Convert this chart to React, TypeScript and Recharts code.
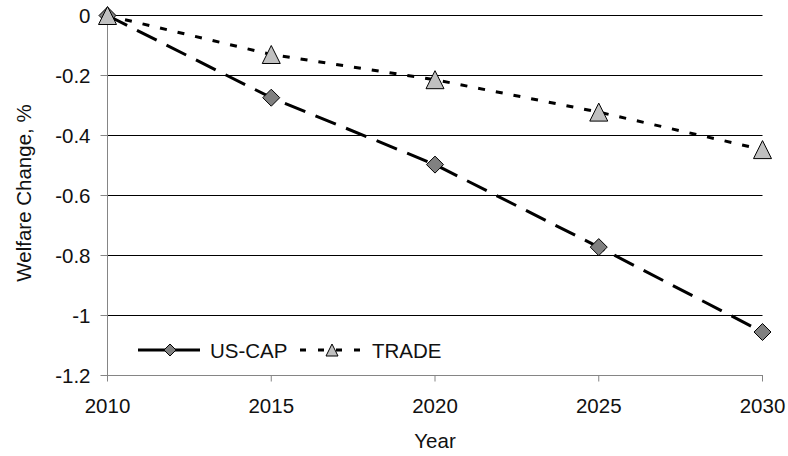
import { LineChart, Line, XAxis, YAxis, CartesianGrid } from 'recharts';

const years = [2010, 2015, 2020, 2025, 2030];
const usCap = [0, -0.274, -0.497, -0.772, -1.055];
const trade = [0, -0.13, -0.214, -0.322, -0.447];
const yTicks = [0, -0.2, -0.4, -0.6, -0.8, -1, -1.2];

const data = years.map((year, i) => ({ year, usCap: usCap[i], trade: trade[i] }));

const FONT = '"Liberation Sans", Arial, sans-serif';
const AXIS_GRAY = '#858585';

const Diamond = ({ cx, cy, size = 17 }: any) => {
    if (cx == null || cy == null) return null;
    const h = size / 2;
    return (
        <path
            d={`M${cx},${cy - h} L${cx + h},${cy} L${cx},${cy + h} L${cx - h},${cy} Z`}
            fill="#808080"
            stroke="#000"
            strokeWidth={1}
        />
    );
};

const Triangle = ({ cx, cy, size = 18 }: any) => {
    if (cx == null || cy == null) return null;
    const h = size / 2;
    return (
        <path
            d={`M${cx},${cy - h} L${cx + h},${cy + h} L${cx - h},${cy + h} Z`}
            fill="#c0c0c0"
            stroke="#000"
            strokeWidth={1}
        />
    );
};

const series = [
    { key: 'usCap', name: 'US-CAP', dash: '22 11', legendDash: undefined, Marker: Diamond, legendSize: 12 },
    { key: 'trade', name: 'TRADE', dash: '7 11', legendDash: '6 12', Marker: Triangle, legendSize: 12 },
];

const YLabel = () => (
    <text
        x={31}
        y={193}
        transform="rotate(-90, 31, 193)"
        textAnchor="middle"
        fontSize={20.5}
        fontFamily={FONT}
        fill="#111"
    >
        Welfare Change, %
    </text>
);

function ChartLegend() {
    // two entries: line + marker + name, as in the original
    const starts = [138, 300];
    return (
        <svg
            width={340}
            height={40}
            style={{ position: 'absolute', left: 0, top: 330, overflow: 'visible', pointerEvents: 'none' }}
        >
            {series.map((s, i) => {
                const x0 = starts[i];
                const M = s.Marker;
                return (
                    <g key={s.key}>
                        <line x1={x0} x2={x0 + 62} y1={20} y2={20} stroke="#000" strokeWidth={3} strokeDasharray={s.legendDash} />
                        <M cx={x0 + 32} cy={20} size={s.legendSize} />
                        <text x={x0 + 72} y={28} fontSize={20.5} fontFamily={FONT} fill="#111">
                            {s.name}
                        </text>
                    </g>
                );
            })}
        </svg>
    );
}

export default function App() {
    return (
        <div style={{ position: 'relative', width: 788, height: 456, background: '#fff' }}>
            <style>{`body{margin:0}`}</style>
            <LineChart width={788} height={456} data={data} margin={{ top: 15.5, right: 25.5, left: 0, bottom: 0 }}>
                <CartesianGrid vertical={false} stroke="#000" strokeWidth={1} />
                <XAxis
                    dataKey="year"
                    type="number"
                    domain={[2010, 2030]}
                    ticks={years}
                    height={80.5}
                    stroke={AXIS_GRAY}
                    tickSize={6}
                    tickMargin={17}
                    tick={{ fill: '#111', fontSize: 20.5, fontFamily: FONT }}
                    label={{ value: 'Year', position: 'insideBottom', offset: 8, fill: '#111', fontSize: 20.5, fontFamily: FONT }}
                />
                <YAxis
                    type="number"
                    domain={[-1.2, 0]}
                    ticks={yTicks}
                    width={107.5}
                    stroke={AXIS_GRAY}
                    tickSize={7}
                    tickMargin={10}
                    tickFormatter={(v: number) => String(Math.round(v * 10) / 10)}
                    tick={{ fill: '#111', fontSize: 20.5, fontFamily: FONT }}
                    label={<YLabel />}
                />
                {series.map((s) => (
                    <Line
                        key={s.key}
                        dataKey={s.key}
                        name={s.name}
                        stroke="#000"
                        strokeWidth={3}
                        strokeDasharray={s.dash}
                        dot={(p: any) => <s.Marker key={`${s.key}-${p.index}`} cx={p.cx} cy={p.cy} />}
                        activeDot={false}
                        isAnimationActive={false}
                    />
                ))}
            </LineChart>
            <ChartLegend />
        </div>
    );
}
